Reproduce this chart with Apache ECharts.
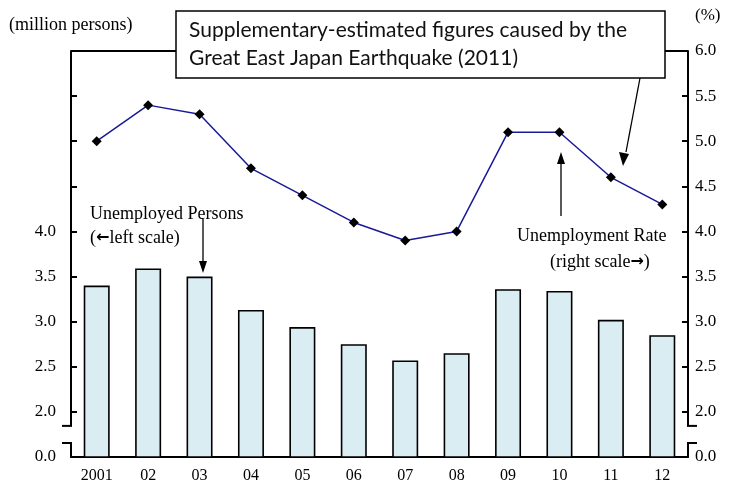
<!DOCTYPE html>
<html>
<head>
<meta charset="UTF-8">
<title>Unemployed persons and unemployment rate</title>
<style>
  * { margin: 0; padding: 0; }
  html, body { width: 100%; height: 100%; background: #fff; }
  #chart { width: 732px; height: 486px; }
</style>
</head>
<body>
<div id="chart"></div>
<script src="https://cdn.jsdelivr.net/npm/echarts@6/dist/echarts.min.js"></script>
<script>
// years on the x axis
var years = ['2001', '02', '03', '04', '05', '06', '07', '08', '09', '10', '11', '12'];
// unemployed persons (million persons, left scale)
var unemployed = [3.40, 3.59, 3.50, 3.13, 2.94, 2.75, 2.57, 2.65, 3.36, 3.34, 3.02, 2.85];
// unemployment rate (%, right scale)
var rate = [5.0, 5.4, 5.3, 4.7, 4.4, 4.1, 3.9, 4.0, 5.1, 5.1, 4.6, 4.3];
// axis: the bottom step (1.5) stands for 0.0, the break sits between it and 2.0
var axisMin = 1.5, axisMax = 6.0, axisStep = 0.5;
var leftLabelMax = 4.0;

var serif = '"Liberation Serif", "DejaVu Serif", serif';
var chart = echarts.init(document.getElementById('chart'));

function tickLabel(v) {
    if (v <= axisMin + 1e-6) return '0.0';
    return v.toFixed(1);
}

var option = {
    animation: false,
    grid: { left: 71, right: 44, top: 51, bottom: 29 },
    xAxis: {
        type: 'category',
        data: years,
        axisLine: { lineStyle: { color: '#000', width: 2 } },
        axisTick: { show: false },
        axisLabel: { color: '#000', fontFamily: serif, fontSize: 16, margin: 11 }
    },
    yAxis: [
        {
            type: 'value', min: axisMin, max: axisMax, interval: axisStep,
            axisLine: { show: true, lineStyle: { color: '#000', width: 2 } },
            axisTick: { show: true, inside: true, length: 6, lineStyle: { color: '#000', width: 2 } },
            splitLine: { show: false },
            axisLabel: {
                color: '#000', fontFamily: serif, fontSize: 17, margin: 15,
                formatter: function (v) { return v > leftLabelMax + 1e-6 ? '' : tickLabel(v); }
            }
        },
        {
            type: 'value', min: axisMin, max: axisMax, interval: axisStep, position: 'right',
            axisLine: { show: true, lineStyle: { color: '#000', width: 2 } },
            axisTick: { show: true, inside: true, length: 6, lineStyle: { color: '#000', width: 2 } },
            splitLine: { show: false },
            axisLabel: { color: '#000', fontFamily: serif, fontSize: 17, margin: 7, formatter: tickLabel }
        }
    ],
    series: [
        {
            name: 'Unemployed Persons',
            type: 'bar',
            yAxisIndex: 0,
            barWidth: 26,
            data: unemployed,
            itemStyle: { color: '#daedf3', borderColor: '#000', borderWidth: 1.6 }
        },
        {
            name: 'Unemployment Rate',
            type: 'line',
            yAxisIndex: 1,
            data: rate,
            symbol: 'diamond',
            symbolSize: 10,
            lineStyle: { color: '#1a1a99', width: 1.5 },
            itemStyle: { color: '#000' },
            z: 5
        }
    ]
};
chart.setOption(option);

// decorations: top border, axis breaks, notes and arrows
var yTop = chart.convertToPixel({ yAxisIndex: 0 }, axisMax);
var yBase = chart.convertToPixel({ yAxisIndex: 0 }, axisMin);
var y2 = chart.convertToPixel({ yAxisIndex: 0 }, 2.0);
var xL = chart.convertToPixel({ xAxisIndex: 0 }, years[0]) - 25.7;
var xR = chart.convertToPixel({ xAxisIndex: 0 }, years[years.length - 1]) + 25.7;
var brkA = y2 + 14, brkB = yBase - 14;

function seg(x1, y1, x2, y2b, w) {
    return { type: 'line', shape: { x1: x1, y1: y1, x2: x2, y2: y2b }, style: { stroke: '#000', lineWidth: w || 2 }, z: 20 };
}
function arrowHead(x, y, dir) {
    // dir: 1 = pointing down, -1 = pointing up
    return { type: 'polygon', shape: { points: [[x, y], [x - 4, y - 12 * dir], [x + 4, y - 12 * dir]] }, style: { fill: '#000' }, z: 20 };
}
var arrowRich = { ar: { fontFamily: '"DejaVu Sans", sans-serif', fontWeight: 'bold', fontSize: 16, fill: '#000' } };

var graphics = [
    seg(xL, yTop, xR, yTop, 2),
    { type: 'rect', shape: { x: xL - 4, y: brkA, width: 8, height: brkB - brkA }, style: { fill: '#fff' }, z: 19 },
    { type: 'rect', shape: { x: xR - 4, y: brkA, width: 8, height: brkB - brkA }, style: { fill: '#fff' }, z: 19 },
    seg(xL - 9, brkA, xL + 1, brkA), seg(xL - 9, brkB, xL + 1, brkB),
    seg(xR - 1, brkA, xR + 9, brkA), seg(xR - 1, brkB, xR + 9, brkB),
    { type: 'text', left: 9, top: 16, style: { text: '(million persons)', font: '18px ' + serif, fill: '#000' }, z: 20 },
    { type: 'text', left: 695, top: 7, style: { text: '(%)', font: '17px ' + serif, fill: '#000' }, z: 20 },
    { type: 'text', left: 90, top: 202, style: { text: 'Unemployed Persons\n({ar|\u2190}left scale)', font: '18px ' + serif, fill: '#000', lineHeight: 24, rich: arrowRich }, z: 20 },
    seg(203, 219, 203, 262, 1.3), arrowHead(203, 273, 1),
    { type: 'text', left: 517, top: 227, style: { text: 'Unemployment Rate', font: '18px ' + serif, fill: '#000' }, z: 20 },
    { type: 'text', left: 550, top: 253, style: { text: '(right scale{ar|\u2192})', font: '18px ' + serif, fill: '#000', rich: arrowRich }, z: 20 },
    seg(561, 216, 561, 163, 1.3), arrowHead(561, 152, -1),
    // note box
    { type: 'rect', shape: { x: 176, y: 11, width: 489, height: 67 }, style: { fill: '#fff', stroke: '#000', lineWidth: 1.5 }, z: 21 },
    { type: 'text', left: 189, top: 16, style: { text: 'Supplementary-estimated figures caused by the\nGreat East Japan Earthquake (2011)', font: '21px Lato, "Open Sans", sans-serif', fill: '#111', lineHeight: 28 }, z: 22 },
    seg(640, 78, 626, 152, 1.3),
    { type: 'polygon', shape: { points: [[623, 166], [619, 152], [629, 154]] }, style: { fill: '#000' }, z: 20 }
];
chart.setOption({ graphic: graphics });
</script>
</body>
</html>
